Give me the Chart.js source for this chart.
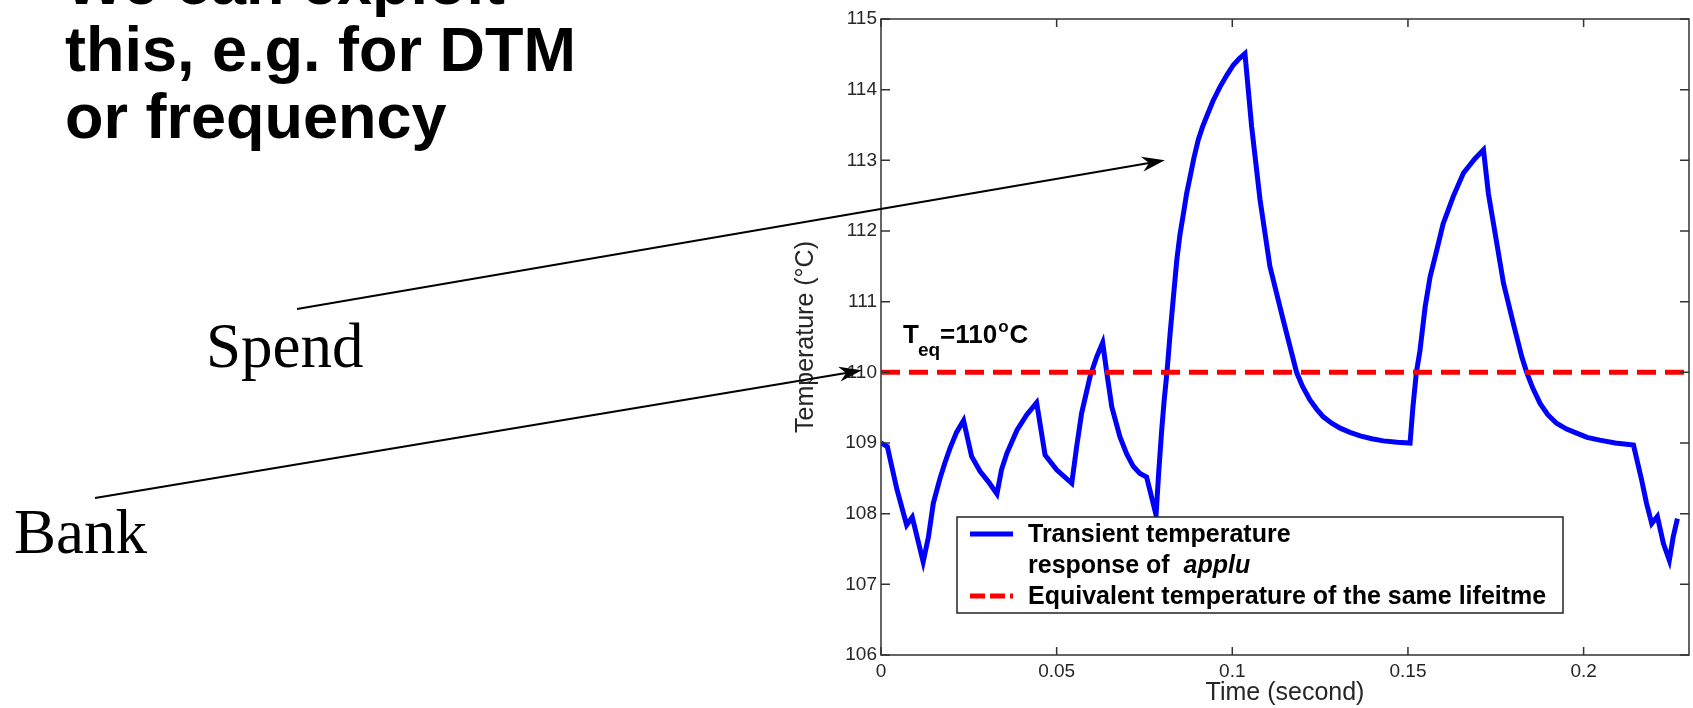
<!DOCTYPE html>
<html>
<head>
<meta charset="utf-8">
<script src="https://cdn.jsdelivr.net/npm/chart.js"></script>
<style>
    html, body { margin: 0; padding: 0; background: #fff; }
    body { width: 1693px; height: 708px; position: relative; overflow: hidden; }
    #chart { position: absolute; left: 0; top: 0; }
    .slide-title { position: absolute; left: 65px; top: -51px; font: bold 63px/67px 'Liberation Sans', Arial, sans-serif; color: #000; white-space: nowrap; }
    .word { position: absolute; font: 63px/63px 'Liberation Serif', 'Times New Roman', serif; color: #000; white-space: nowrap; }
</style>
</head>
<body>
<div class="slide-title">We can exploit<br>this, e.g. for DTM<br>or frequency</div>
<div class="word" style="left:206px; top:315px">Spend</div>
<div class="word" style="left:14px; top:501px">Bank</div>
<canvas id="chart" width="1693" height="708"></canvas>

<script>
// temperature of applu over time
let timeSec = [0, 0.0018, 0.0045, 0.0073, 0.0089, 0.0120, 0.0135, 0.0149, 0.0168, 0.0182,
    0.0196, 0.0215, 0.0235, 0.0258, 0.0282, 0.0306, 0.0330, 0.0343, 0.0358, 0.0387,
    0.0415, 0.0443, 0.0467, 0.0500, 0.0543, 0.0557, 0.0571, 0.0595, 0.0614, 0.0631,
    0.0642, 0.0657, 0.0680, 0.0699, 0.0718, 0.0737, 0.0756, 0.0783, 0.0790, 0.0799,
    0.0806, 0.0814, 0.0823, 0.0833, 0.0842, 0.0851, 0.0861, 0.0870, 0.0880, 0.0891,
    0.0903, 0.0915, 0.0927, 0.0945, 0.0965, 0.0985, 0.1003, 0.1020, 0.1036, 0.1055,
    0.1079, 0.1107, 0.1145, 0.1183, 0.1200, 0.1221, 0.1240, 0.1259, 0.1283, 0.1307,
    0.1335, 0.1364, 0.1397, 0.1430, 0.1470, 0.1506, 0.1514, 0.1524, 0.1534, 0.1549,
    0.1563, 0.1582, 0.1600, 0.1629, 0.1658, 0.1690, 0.1715, 0.1729, 0.1748, 0.1772,
    0.1800, 0.1824, 0.1838, 0.1855, 0.1876, 0.1898, 0.1923, 0.1950, 0.1980, 0.2010,
    0.2046, 0.2090, 0.2142, 0.2165, 0.2179, 0.2194, 0.2210, 0.2227, 0.2244, 0.2255,
    0.2267];
let tempC = [109.00, 108.95, 108.35, 107.84, 107.95, 107.32, 107.67, 108.15, 108.50, 108.72,
    108.92, 109.15, 109.32, 108.81, 108.60, 108.45, 108.28, 108.62, 108.85, 109.18,
    109.40, 109.57, 108.83, 108.62, 108.43, 108.95, 109.42, 109.94, 110.22, 110.42,
    110.02, 109.51, 109.09, 108.85, 108.67, 108.57, 108.52, 107.98, 108.55, 109.18,
    109.60, 110.00, 110.55, 111.10, 111.59, 111.95, 112.25, 112.53, 112.77, 113.04,
    113.29, 113.47, 113.62, 113.84, 114.04, 114.21, 114.35, 114.44, 114.51, 113.48,
    112.44, 111.50, 110.74, 110.00, 109.80, 109.61, 109.48, 109.37, 109.28, 109.21,
    109.15, 109.10, 109.06, 109.03, 109.01, 109.00, 109.50, 110.00, 110.30, 110.93,
    111.35, 111.73, 112.10, 112.49, 112.82, 113.02, 113.15, 112.53, 111.97, 111.26,
    110.69, 110.22, 110.00, 109.78, 109.56, 109.40, 109.28, 109.20, 109.14, 109.08,
    109.04, 109.00, 108.97, 108.48, 108.15, 107.86, 107.96, 107.58, 107.34, 107.67,
    107.93];

let teqValue = 110;
let xRange = [0, 0.23];
let yRange = [106, 115];
let xTicks = [0, 0.05, 0.1, 0.15, 0.2];
let yTicks = [106, 107, 108, 109, 110, 111, 112, 113, 114, 115];

let seriesLabels = ['Transient temperature response of applu', 'Equivalent temperature of the same lifeitme'];
// legend rows: [text, italic]
let legendRows = [
    [['Transient temperature', false]],
    [['response of  ', false], ['applu', true]],
    [['Equivalent temperature of the same lifeitme', false]]
];

const SANS = "'Liberation Sans', Arial, sans-serif";


// -------- BOX, TICKS, LEGEND, LABEL -------- //

const matlabBox = {
    id: 'matlabBox',
    afterDatasetsDraw(chart) {
        const ctx = chart.ctx;
        const a = chart.chartArea;
        const x = chart.scales.x;
        const y = chart.scales.y;
        ctx.save();

        // axes box
        ctx.strokeStyle = '#333';
        ctx.lineWidth = 1.5;
        ctx.strokeRect(a.left, a.top, a.right - a.left, a.bottom - a.top);

        // inward ticks on all four sides
        ctx.beginPath();
        xTicks.forEach(v => {
            let px = x.getPixelForValue(v);
            ctx.moveTo(px, a.bottom); ctx.lineTo(px, a.bottom - 8);
            ctx.moveTo(px, a.top); ctx.lineTo(px, a.top + 8);
        });
        yTicks.forEach(v => {
            let py = y.getPixelForValue(v);
            ctx.moveTo(a.left, py); ctx.lineTo(a.left + 9, py);
            ctx.moveTo(a.right, py); ctx.lineTo(a.right - 9, py);
        });
        ctx.stroke();

        // T_eq label
        let tx = a.left + 22;
        let ty = y.getPixelForValue(teqValue) - 29;
        ctx.fillStyle = '#000';
        ctx.textBaseline = 'alphabetic';
        ctx.textAlign = 'left';
        ctx.font = 'bold 26px ' + SANS;
        ctx.fillText('T', tx, ty);
        tx += ctx.measureText('T').width - 1;
        ctx.font = 'bold 19px ' + SANS;
        ctx.fillText('eq', tx, ty + 13);
        tx += ctx.measureText('eq').width;
        ctx.font = 'bold 26px ' + SANS;
        ctx.fillText('=' + teqValue, tx, ty);
        tx += ctx.measureText('=' + teqValue).width + 1;
        ctx.font = 'bold 17px ' + SANS;
        ctx.fillText('o', tx, ty - 11);
        tx += ctx.measureText('o').width + 1;
        ctx.font = 'bold 26px ' + SANS;
        ctx.fillText('C', tx, ty);

        // legend
        let lx = a.left + 76;
        let ly = a.top + 498;
        ctx.fillStyle = '#fff';
        ctx.fillRect(lx, ly, 606, 96);
        ctx.strokeStyle = '#222';
        ctx.lineWidth = 1.5;
        ctx.strokeRect(lx, ly, 606, 96);

        let sampleY = [ly + 17, ly + 79];
        chart.data.datasets.forEach((ds, i) => {
            ctx.beginPath();
            ctx.strokeStyle = ds.borderColor;
            ctx.lineWidth = ds.borderWidth;
            ctx.setLineDash(ds.borderDash ? [15, 5] : []);
            ctx.moveTo(lx + 13, sampleY[i]);
            ctx.lineTo(lx + 56, sampleY[i]);
            ctx.stroke();
        });
        ctx.setLineDash([]);

        ctx.fillStyle = '#000';
        let rowBase = [ly + 24.5, ly + 55.5, ly + 86.5];
        legendRows.forEach((row, r) => {
            let cx = lx + 71;
            row.forEach(part => {
                ctx.font = (part[1] ? 'italic bold ' : 'bold ') + '25px ' + SANS;
                ctx.fillText(part[0], cx, rowBase[r]);
                cx += ctx.measureText(part[0]).width;
            });
        });
        ctx.restore();
    },

    // -------- ARROWS FROM SPEND / BANK -------- //
    afterDraw(chart) {
        const ctx = chart.ctx;
        const x = chart.scales.x;
        const y = chart.scales.y;
        const a = chart.chartArea;
        ctx.save();
        drawArrow(ctx, 297, 309, x.getPixelForValue(0.0808), y.getPixelForValue(113.0));
        drawArrow(ctx, 95, 498, a.left - 19, y.getPixelForValue(teqValue) - 2);
        ctx.restore();
    }
};

function drawArrow(ctx, x0, y0, x1, y1) {
    let ang = Math.atan2(y1 - y0, x1 - x0);
    let len = 23;
    let half = 7.5;
    ctx.strokeStyle = '#000';
    ctx.fillStyle = '#000';
    ctx.lineWidth = 2;
    ctx.beginPath();
    ctx.moveTo(x0, y0);
    ctx.lineTo(x1 - Math.cos(ang) * 10, y1 - Math.sin(ang) * 10);
    ctx.stroke();

    ctx.save();
    ctx.translate(x1, y1);
    ctx.rotate(ang);
    ctx.beginPath();
    ctx.moveTo(0, 0);
    ctx.lineTo(-len, -half);
    ctx.lineTo(-len + 7, 0);
    ctx.lineTo(-len, half);
    ctx.closePath();
    ctx.fill();
    ctx.restore();
}


// -------- CHART -------- //

new Chart(document.getElementById('chart'), {
    type: 'line',
    data: {
        datasets: [{
            label: seriesLabels[0],
            data: timeSec.map((t, i) => ({ x: t, y: tempC[i] })),
            borderColor: '#0000ff',
            borderWidth: 5,
            pointRadius: 0,
            tension: 0,
            fill: false,
            order: 1
        }, {
            label: seriesLabels[1],
            data: xRange.map(t => ({ x: t, y: teqValue })),
            borderColor: '#ff0000',
            borderWidth: 5,
            borderDash: [19, 9],
            pointRadius: 0,
            fill: false,
            order: 0
        }]
    },
    options: {
        responsive: false,
        animation: false,
        devicePixelRatio: 1,
        layout: { padding: { left: 781, right: 4, top: 19, bottom: 0 } },
        plugins: {
            legend: { display: false },
            tooltip: { enabled: false }
        },
        scales: {
            x: {
                type: 'linear',
                min: xRange[0],
                max: xRange[1],
                afterBuildTicks: sc => { sc.ticks = xTicks.map(v => ({ value: v })); },
                afterFit: sc => { sc.height = 53; },
                grid: { display: false, drawTicks: false },
                border: { display: false },
                ticks: {
                    font: { family: SANS, size: 19 },
                    color: '#262626',
                    padding: 5,
                    maxRotation: 0,
                    autoSkip: false,
                    callback: v => String(v)
                },
                title: {
                    display: true,
                    text: 'Time (second)',
                    font: { family: SANS, size: 25 },
                    color: '#262626',
                    padding: { top: 0, bottom: 0 }
                }
            },
            y: {
                type: 'linear',
                min: yRange[0],
                max: yRange[1],
                afterBuildTicks: sc => { sc.ticks = yTicks.map(v => ({ value: v })); },
                afterFit: sc => { sc.width = 100; },
                grid: { display: false, drawTicks: false },
                border: { display: false },
                ticks: {
                    font: { family: SANS, size: 19 },
                    color: '#262626',
                    padding: 4,
                    autoSkip: false,
                    callback: v => String(v)
                },
                title: {
                    display: true,
                    text: 'Temperature (°C)',
                    font: { family: SANS, size: 25 },
                    color: '#262626',
                    padding: { top: 10, bottom: 0 }
                }
            }
        }
    },
    plugins: [matlabBox]
});
</script>
</body>
</html>
